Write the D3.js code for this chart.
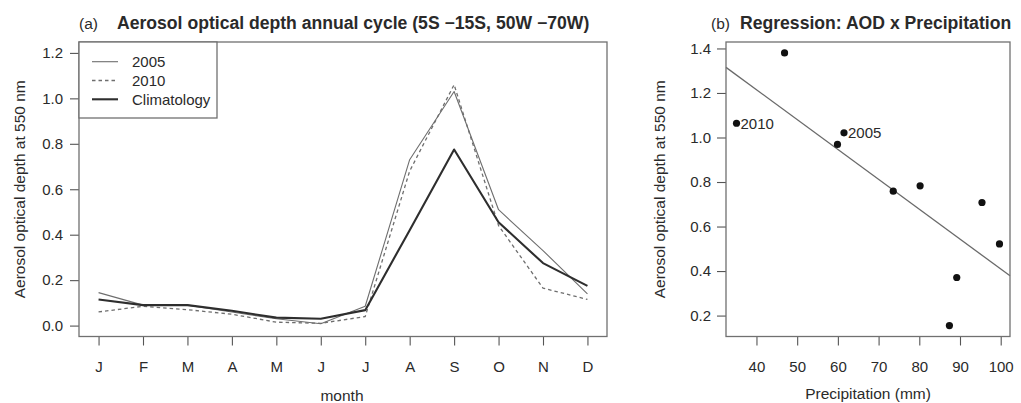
<!DOCTYPE html>
<html>
<head>
<meta charset="utf-8">
<script src="https://cdn.jsdelivr.net/npm/d3@7"></script>
<style>
  html, body { margin: 0; padding: 0; background: #fff; }
  svg text { font-family: "Liberation Sans", Arial, Helvetica, sans-serif; fill: #2a2a2a; }
</style>
</head>
<body>
<svg id="chart" width="1021" height="403"></svg>
<script>
// ---------- Data ----------
const months = ["J","F","M","A","M","J","J","A","S","O","N","D"];
const aod2005 = [0.145, 0.09, 0.09, 0.06, 0.03, 0.008, 0.085, 0.73, 1.03, 0.51, 0.33, 0.14];
const aod2010 = [0.06, 0.085, 0.07, 0.05, 0.015, 0.01, 0.04, 0.68, 1.06, 0.44, 0.165, 0.115];
const aodClim = [0.115, 0.09, 0.09, 0.065, 0.035, 0.03, 0.068, 0.42, 0.775, 0.455, 0.275, 0.175];
const seriesNames = ["2005", "2010", "Climatology"];
const yTicksA = [0.0, 0.2, 0.4, 0.6, 0.8, 1.0, 1.2];

const precip = [35.1, 46.9, 61.5, 59.9, 73.6, 80.2, 95.4, 99.7, 89.2, 87.4];
const aodReg = [1.064, 1.38, 1.021, 0.969, 0.759, 0.783, 0.708, 0.522, 0.371, 0.155];
const pointLabels = ["2010", "", "2005", "", "", "", "", "", "", ""];
const xTicksB = [40, 50, 60, 70, 80, 90, 100];
const yTicksB = [0.2, 0.4, 0.6, 0.8, 1.0, 1.2, 1.4];

// ---------- Setup ----------
const svg = d3.select("#chart");
const FS = 15.5;     // labels
const TFS = 15;      // tick labels
const TITLE_FS = 17.6;
const boxColor = "#707070";

function rExpand(lo, hi) { const d = (hi - lo) * 0.04; return [lo - d, hi + d]; }

function styleAxis(g) {
  g.select(".domain").remove();
  g.selectAll(".tick line").attr("stroke", "#555").attr("stroke-width", 1.1);
  g.selectAll(".tick text").attr("font-size", TFS).attr("fill", "#2a2a2a")
    .attr("font-family", '"Liberation Sans", Arial, sans-serif');
}

// ---------- Panel (a) ----------
const A = { l: 79, r: 607, t: 42, b: 336.5 };
const xA = d3.scaleLinear().domain(rExpand(1, 12)).range([A.l, A.r]);
const yA = d3.scaleLinear().domain(rExpand(0, 1.2)).range([A.b, A.t]);

const gA = svg.append("g");
gA.append("g").attr("transform", `translate(${A.l},0)`)
  .call(d3.axisLeft(yA).tickValues(yTicksA).tickFormat(d3.format(".1f")).tickSize(9).tickPadding(7))
  .call(styleAxis);
gA.append("g").attr("transform", `translate(0,${A.b})`)
  .call(d3.axisBottom(xA).tickValues(d3.range(1, 13)).tickFormat((d) => months[d - 1]).tickSize(9).tickPadding(16))
  .call(styleAxis);

const lineA = d3.line().x((d, i) => xA(i + 1)).y((d) => yA(d));
const styles = [
  { data: aod2005, stroke: "#6e6e6e", width: 1.1, dash: null },
  { data: aod2010, stroke: "#6e6e6e", width: 1.3, dash: "3.5,3" },
  { data: aodClim, stroke: "#2e2e2e", width: 2.1, dash: null }
];
styles.forEach((s) => {
  gA.append("path").datum(s.data).attr("d", lineA).attr("fill", "none")
    .attr("stroke", s.stroke).attr("stroke-width", s.width)
    .attr("stroke-dasharray", s.dash).attr("stroke-linejoin", "round");
});

gA.append("rect").attr("x", A.l).attr("y", A.t).attr("width", A.r - A.l).attr("height", A.b - A.t)
  .attr("fill", "none").attr("stroke", boxColor).attr("stroke-width", 1.3);

// legend
const leg = gA.append("g");
leg.append("rect").attr("x", A.l).attr("y", A.t).attr("width", 138).attr("height", 76)
  .attr("fill", "#fff").attr("stroke", boxColor).attr("stroke-width", 1.3);
seriesNames.forEach((n, i) => {
  const y = 61.7 + i * 18.8;
  const s = styles[i];
  leg.append("line").attr("x1", 92).attr("x2", 118).attr("y1", y).attr("y2", y)
    .attr("stroke", s.stroke).attr("stroke-width", s.width).attr("stroke-dasharray", s.dash);
  leg.append("text").attr("x", 132).attr("y", y).attr("dy", "0.36em").attr("font-size", 15).text(n);
});

gA.append("text").attr("x", 79).attr("y", 23).attr("dy", "0.36em").attr("font-size", FS).text("(a)");
gA.append("text").attr("x", 117).attr("y", 23).attr("dy", "0.36em").attr("font-size", TITLE_FS)
  .attr("font-weight", "bold").attr("fill", "#1a1a1a")
  .text("Aerosol optical depth annual cycle (5S \u221215S, 50W \u221270W)");
gA.append("text").attr("x", 342).attr("y", 395).attr("dy", "0.36em")
  .attr("text-anchor", "middle").attr("font-size", FS).text("month");
gA.append("text").attr("transform", `translate(19,${(A.t + A.b) / 2}) rotate(-90)`)
  .attr("dy", "0.36em").attr("text-anchor", "middle").attr("font-size", FS)
  .text("Aerosol optical depth at 550 nm");

// ---------- Panel (b) ----------
const B = { l: 726, r: 1010, t: 42, b: 336.5 };
const xB = d3.scaleLinear().domain(rExpand(d3.min(precip), d3.max(precip))).range([B.l, B.r]);
const yB = d3.scaleLinear().domain(rExpand(d3.min(aodReg), d3.max(aodReg))).range([B.b, B.t]);

const gB = svg.append("g");
gB.append("g").attr("transform", `translate(${B.l},0)`)
  .call(d3.axisLeft(yB).tickValues(yTicksB).tickFormat(d3.format(".1f")).tickSize(9).tickPadding(6))
  .call(styleAxis);
gB.append("g").attr("transform", `translate(0,${B.b})`)
  .call(d3.axisBottom(xB).tickValues(xTicksB).tickFormat(d3.format("d")).tickSize(9).tickPadding(16))
  .call(styleAxis);

// least squares regression line
const mx = d3.mean(precip), my = d3.mean(aodReg);
const sxy = d3.sum(precip, (x, i) => (x - mx) * (aodReg[i] - my));
const sxx = d3.sum(precip, (x) => (x - mx) ** 2);
const slope = sxy / sxx, icpt = my - slope * mx;
const xd = xB.domain();
gB.append("line")
  .attr("x1", xB(xd[0])).attr("y1", yB(icpt + slope * xd[0]))
  .attr("x2", xB(xd[1])).attr("y2", yB(icpt + slope * xd[1]))
  .attr("stroke", "#6a6a6a").attr("stroke-width", 1.3);

gB.selectAll("circle.pt").data(precip).enter().append("circle")
  .attr("class", "pt").attr("cx", (d) => xB(d)).attr("cy", (d, i) => yB(aodReg[i]))
  .attr("r", 3.6).attr("fill", "#111");
gB.selectAll("text.pl").data(precip).enter().append("text")
  .attr("class", "pl").attr("x", (d) => xB(d) + 4).attr("y", (d, i) => yB(aodReg[i]))
  .attr("dy", "0.36em").attr("font-size", 15).text((d, i) => pointLabels[i]);

gB.append("rect").attr("x", B.l).attr("y", B.t).attr("width", B.r - B.l).attr("height", B.b - B.t)
  .attr("fill", "none").attr("stroke", boxColor).attr("stroke-width", 1.3);

gB.append("text").attr("x", 711).attr("y", 23).attr("dy", "0.36em").attr("font-size", FS).text("(b)");
gB.append("text").attr("x", 740).attr("y", 23).attr("dy", "0.36em").attr("font-size", TITLE_FS)
  .attr("font-weight", "bold").attr("fill", "#1a1a1a").text("Regression: AOD x Precipitation");
gB.append("text").attr("x", (B.l + B.r) / 2).attr("y", 393).attr("dy", "0.36em")
  .attr("text-anchor", "middle").attr("font-size", FS).text("Precipitation (mm)");
gB.append("text").attr("transform", `translate(659,${(B.t + B.b) / 2}) rotate(-90)`)
  .attr("dy", "0.36em").attr("text-anchor", "middle").attr("font-size", FS)
  .text("Aerosol optical depth at 550 nm");
</script>
</body>
</html>
